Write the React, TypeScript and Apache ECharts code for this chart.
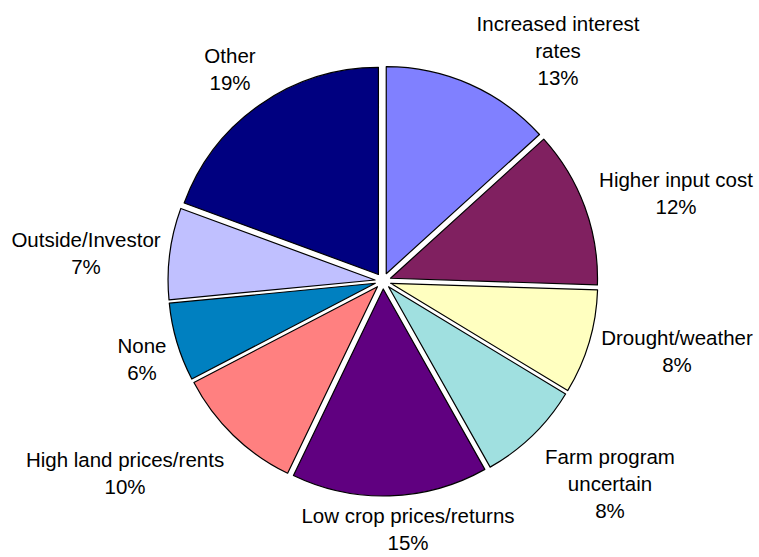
import React, { useEffect, useRef } from "react";
import * as echarts from "echarts";

// Categories (display text, with line breaks as in the reference)
const CATEGORIES = [
  "Increased interest\nrates",
  "Higher input cost",
  "Drought/weather",
  "Farm program\nuncertain",
  "Low crop prices/returns",
  "High land prices/rents",
  "None",
  "Outside/Investor",
  "Other",
];

// Percent values as labelled
const VALUES = [13, 12, 8, 8, 15, 10, 6, 7, 19];

const COLORS = [
  "#8080FF",
  "#802060",
  "#FFFFC0",
  "#A0E0E0",
  "#600080",
  "#FF8080",
  "#0080C0",
  "#C0C0FF",
  "#000080",
];

// Label block centres (layout, in pixels)
const LABEL_POS: [number, number][] = [
  [558, 50],
  [676, 193],
  [677, 351],
  [610, 483],
  [408, 529],
  [125, 473],
  [142, 359],
  [86, 253],
  [230, 69],
];

const CENTER: [number, number] = [383, 281];
const RADIUS = 207;

export default function App() {
  const ref = useRef<HTMLDivElement>(null);

  useEffect(() => {
    if (!ref.current) return;
    const chart = echarts.init(ref.current, undefined, { renderer: "svg" });
    const sliceData = CATEGORIES.map((name, i) => ({
      name,
      value: VALUES[i],
      selected: true,
      itemStyle: { color: COLORS[i] },
    }));
    const labelData = CATEGORIES.map((name, i) => ({
      name,
      value: VALUES[i],
    }));
    chart.setOption({
      animation: false,
      backgroundColor: "#ffffff",
      series: [
        {
          type: "pie",
          center: CENTER,
          radius: [0, RADIUS],
          startAngle: 90,
          clockwise: true,
          selectedMode: "multiple",
          selectedOffset: 8,
          avoidLabelOverlap: false,
          data: sliceData,
          itemStyle: { borderColor: "#000000", borderWidth: 1.2 },
          select: { itemStyle: { borderColor: "#000000", borderWidth: 1.2 } },
          emphasis: { disabled: true },
          label: { show: false },
          labelLine: { show: false },
        },
        {
          type: "pie",
          center: CENTER,
          radius: [0, RADIUS],
          startAngle: 90,
          clockwise: true,
          silent: true,
          selectedMode: false,
          avoidLabelOverlap: false,
          data: labelData,
          itemStyle: { color: "rgba(0,0,0,0)", borderWidth: 0 },
          emphasis: { disabled: true },
          label: {
            show: true,
            position: "outside",
            formatter: (p: any) => `${p.name}\n${p.value}%`,
            fontFamily: "'Liberation Sans', Arial, sans-serif",
            fontSize: 20.5,
            lineHeight: 27,
            color: "#000000",
            align: "center",
          },
          labelLine: { show: false },
          labelLayout: (params: any) => {
            const pos = LABEL_POS[params.dataIndex];
            return {
              x: pos[0],
              y: pos[1],
              align: "center",
              verticalAlign: "middle",
            };
          },
        },
      ],
    });
    return () => chart.dispose();
  }, []);

  return (
    <div
      ref={ref}
      style={{ position: "absolute", left: 0, top: 0, width: 759, height: 557, background: "#fff" }}
    />
  );
}
